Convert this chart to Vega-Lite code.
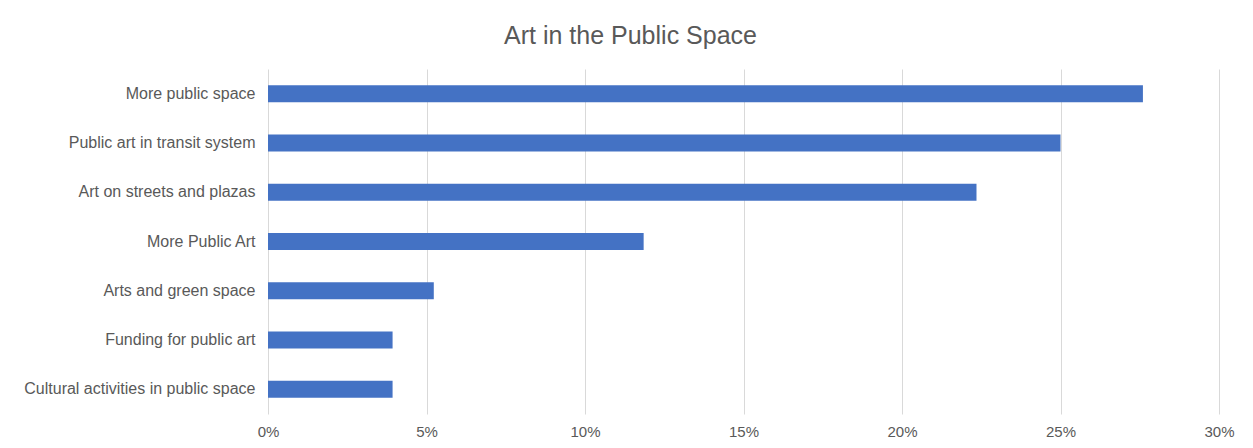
{
  "$schema": "https://vega.github.io/schema/vega-lite/v6.json",
  "width": 951,
  "height": 345,
  "autosize": {"type": "none"},
  "padding": {"left": 268, "top": 69, "right": 34, "bottom": 34},
  "background": "white",
  "title": {
    "text": "Art in the Public Space",
    "font": "Liberation Sans",
    "fontSize": 25,
    "fontWeight": "normal",
    "color": "#595959",
    "anchor": "middle",
    "dx": -113,
    "offset": 20
  },
  "data": {
    "values": [
      {"category": "More public space", "pct": 0.276},
      {"category": "Public art in transit system", "pct": 0.250},
      {"category": "Art on streets and plazas", "pct": 0.2235},
      {"category": "More Public Art", "pct": 0.1185},
      {"category": "Arts and green space", "pct": 0.0523},
      {"category": "Funding for public art", "pct": 0.0393},
      {"category": "Cultural activities in public space", "pct": 0.0393}
    ]
  },
  "mark": {"type": "bar", "color": "#4472C4"},
  "encoding": {
    "y": {
      "field": "category",
      "type": "nominal",
      "sort": null,
      "scale": {"paddingInner": 0.655, "paddingOuter": 0.3275},
      "axis": {
        "title": null,
        "domain": false,
        "ticks": false,
        "labelFont": "Liberation Sans",
        "labelFontSize": 16,
        "labelColor": "#595959",
        "labelPadding": 13,
        "labelLimit": 400
      }
    },
    "x": {
      "field": "pct",
      "type": "quantitative",
      "scale": {"domain": [0, 0.3], "nice": false},
      "axis": {
        "title": null,
        "format": ".0%",
        "values": [0, 0.05, 0.1, 0.15, 0.2, 0.25, 0.3],
        "domain": false,
        "ticks": false,
        "grid": true,
        "gridColor": "#d9d9d9",
        "gridWidth": 1,
        "labelFlush": false,
        "labelFont": "Liberation Sans",
        "labelFontSize": 15,
        "labelColor": "#595959",
        "labelPadding": 10
      }
    }
  },
  "config": {"view": {"stroke": null}}
}
